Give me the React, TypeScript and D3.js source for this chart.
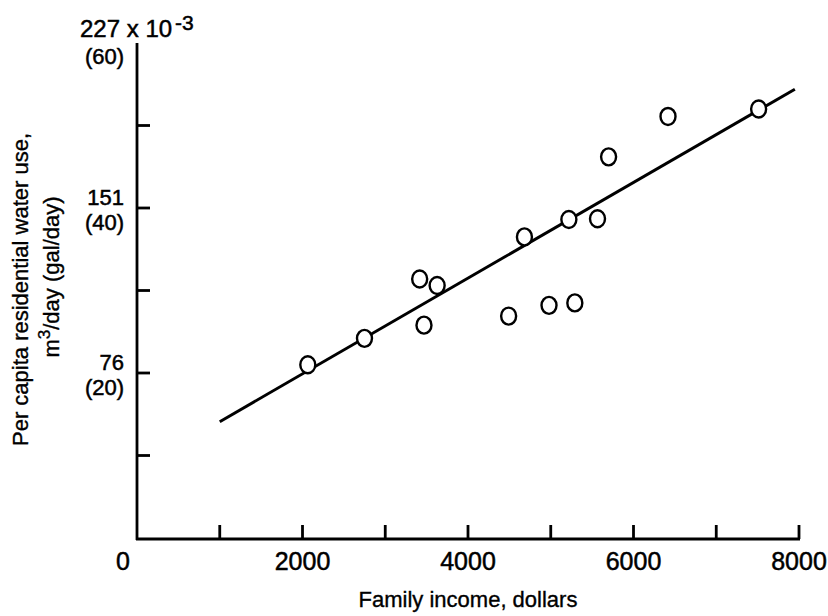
import * as d3 from 'd3';

// family income (dollars) vs per capita use (gal/day)
const incomes = [2064, 2749, 3416, 3627, 3468, 4491, 4682, 4979, 5291, 5219, 5565, 5699, 6417, 7512];
const waterUse = [21.0, 24.2, 31.4, 30.6, 25.8, 26.9, 36.5, 28.2, 28.5, 38.6, 38.7, 46.2, 51.1, 52.0];

// fitted line end points
const fitIncome = [1000, 7950];
const fitUse = [14.1, 54.4];

const xTicks = [1000, 2000, 3000, 4000, 5000, 6000, 7000, 8000];
const xTickLabels = [0, 2000, 4000, 6000, 8000];
const yTicks = [10, 20, 30, 40, 50];
const yLabels = [
  { value: 20, metric: '76', gal: '(20)' },
  { value: 40, metric: '151', gal: '(40)' },
];

const font = '"Liberation Sans", Arial, sans-serif';

const App = () => {
  const width = 828;
  const height = 616;

  const x = d3.scaleLinear().domain([0, 8000]).range([137, 799]);
  const y = d3.scaleLinear().domain([0, 60]).range([538, 43]);

  const fitLine = d3
    .line<number>()
    .x((d) => x(d))
    .y((d, i) => y(fitUse[i]));

  // slightly heavier text, like the scanned original
  const ink = { fill: '#000', stroke: '#000', strokeWidth: 0.5 };

  return (
    <svg
      width={width}
      height={height}
      style={{ position: 'absolute', left: 0, top: 0, background: '#fff' }}
      fontFamily={font}
    >
      {/* axes */}
      <g stroke="#000" strokeWidth={2.8} fill="none">
        <line x1={x(0) - 1} x2={x(8000) + 1} y1={y(0) + 1} y2={y(0) + 1} />
        <line x1={x(0)} x2={x(0)} y1={y(0) + 2} y2={y(60)} />
        {xTicks.map((t) => (
          <line key={t} x1={x(t)} x2={x(t)} y1={y(0) + 1} y2={y(0) - 13} />
        ))}
        {yTicks.map((t) => (
          <line key={t} x1={x(0)} x2={x(0) + 13} y1={y(t)} y2={y(t)} />
        ))}
      </g>

      {/* x labels */}
      <g fontSize={25} textAnchor="middle" {...ink}>
        {xTickLabels.map((t) => (
          <text key={t} x={t === 0 ? x(0) - 14 : x(t)} y={570}>
            {t}
          </text>
        ))}
      </g>
      <text x={x(4000)} y={607} fontSize={22} textAnchor="middle" {...ink} strokeWidth={0.35}>
        Family income, dollars
      </text>

      {/* y labels */}
      <g fontSize={22} textAnchor="end" {...ink}>
        {yLabels.map((d) => (
          <g key={d.value}>
            <text x={124} y={y(d.value) - 3}>
              {d.metric}
            </text>
            <text x={124} y={y(d.value) + 22}>
              {d.gal}
            </text>
          </g>
        ))}
        <text x={124} y={y(60) + 21}>
          (60)
        </text>
      </g>
      <text x={80} y={37} fontSize={24} {...ink}>
        227 x 10
        <tspan dx={3} dy={-7} fontSize={21}>
          -3
        </tspan>
      </text>

      {/* y title */}
      <text
        transform={`translate(28, ${y(30) - 1}) rotate(-90)`}
        fontSize={22}
        textAnchor="middle"
        {...ink}
        strokeWidth={0.35}
      >
        Per capita residential water use,
      </text>
      <text
        transform={`translate(59, 277) rotate(-90)`}
        fontSize={22}
        textAnchor="middle"
        {...ink}
        strokeWidth={0.35}
      >
        m<tspan dy={-9} fontSize={17}>3</tspan>
        <tspan dy={9}>/day (gal/day)</tspan>
      </text>

      {/* fit line */}
      <path d={fitLine(fitIncome) ?? ''} stroke="#000" strokeWidth={3} fill="none" />

      {/* observations */}
      <g fill="#fff" stroke="#000" strokeWidth={2.4}>
        {incomes.map((v, i) => (
          <ellipse key={i} cx={x(v)} cy={y(waterUse[i])} rx={7.5} ry={8.5} />
        ))}
      </g>
    </svg>
  );
};

export default App;
